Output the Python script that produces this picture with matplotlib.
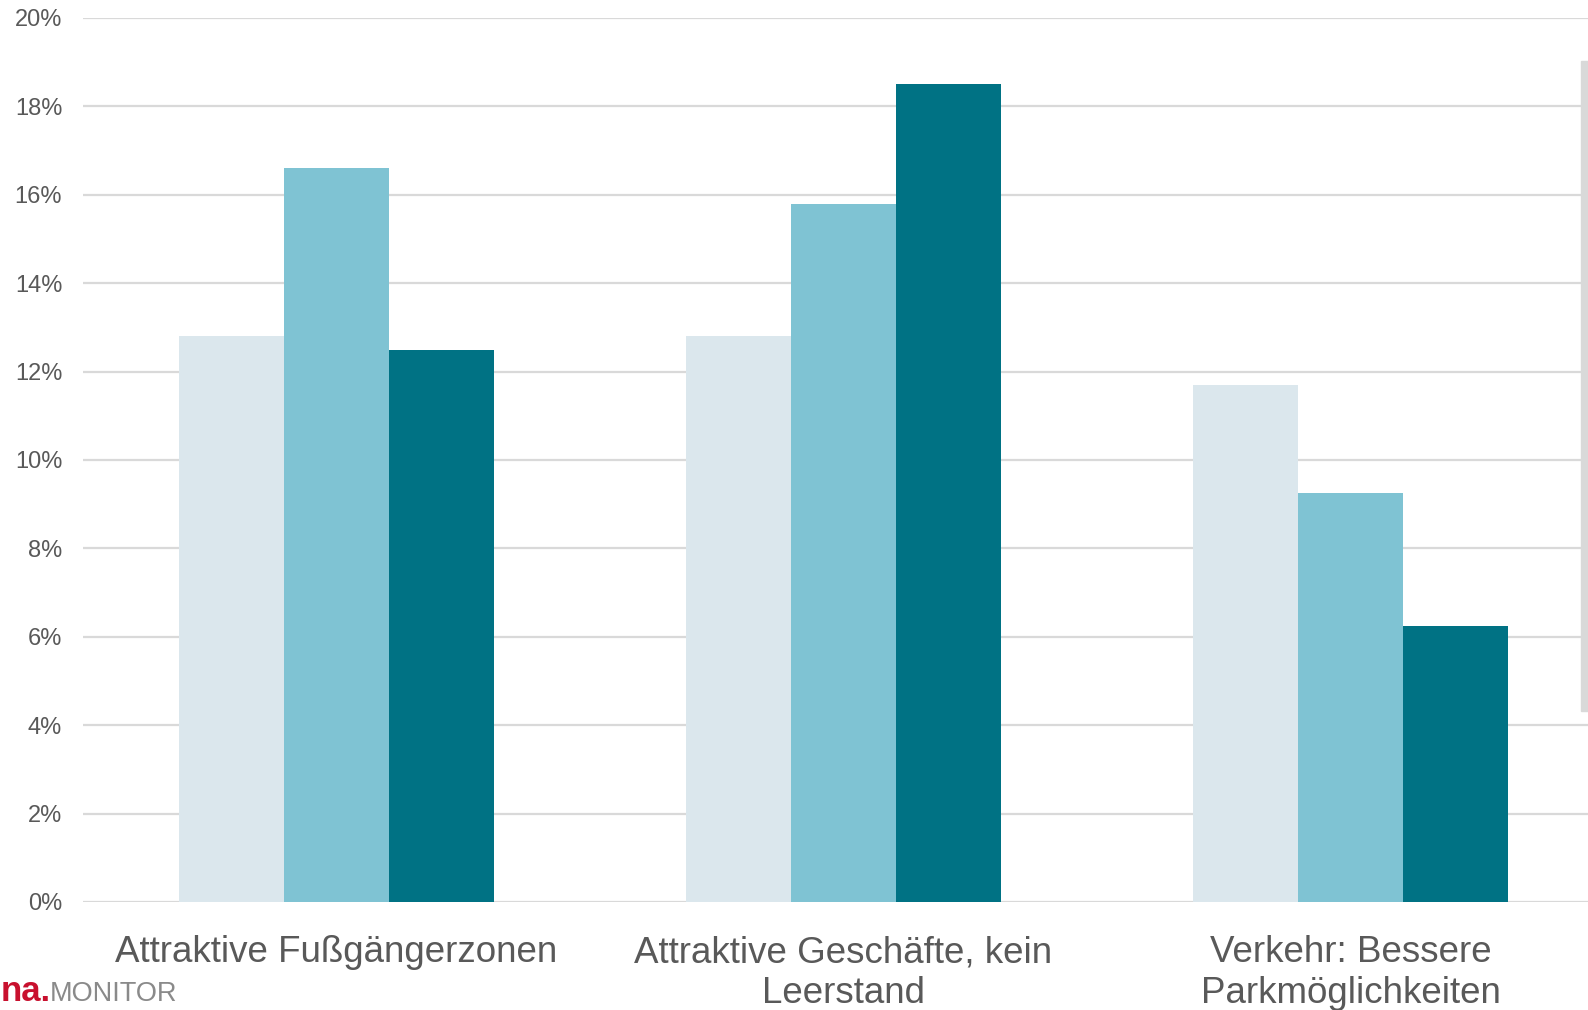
import matplotlib.pyplot as plt
from matplotlib.patches import Rectangle
from matplotlib.ticker import FuncFormatter
import numpy as np

# chart data
categories = ["Attraktive Fußgängerzonen",
              "Attraktive Geschäfte, kein\nLeerstand",
              "Verkehr: Bessere\nParkmöglichkeiten"]
series_a = [12.8, 12.8, 11.7]
series_b = [16.6, 15.8, 9.25]
series_c = [12.5, 18.5, 6.25]
colors = ["#DBE7ED", "#7FC3D3", "#007284"]

W, H = 1588, 1010
plt.rcParams['font.family'] = ['Liberation Sans', 'DejaVu Sans']
fig = plt.figure(figsize=(W / 100, H / 100), dpi=100)

# axes in pixel terms: left 83, right 1604 (runs past the edge), top 18, bottom 902
ax = fig.add_axes([83 / W, (H - 902) / H, (1604 - 83) / W, (902 - 18) / H])

x = np.arange(len(categories))
bw = 0.207
for i, vals in enumerate([series_a, series_b, series_c]):
    ax.bar(x + (i - 1) * bw, vals, width=bw, color=colors[i], zorder=3)

ax.set_xlim(-0.5, 2.5)
ax.set_ylim(0, 20)
ax.set_yticks(np.arange(0, 21, 2))
ax.yaxis.set_major_formatter(FuncFormatter(lambda v, p: f"{v:.0f}%"))
ax.grid(axis='y', color='#d9d9d9', linewidth=1.6, zorder=0)
ax.set_axisbelow(True)
for s in ax.spines.values():
    s.set_visible(False)
ax.tick_params(axis='y', length=0, pad=15, labelsize=17, labelcolor='#595959')
ax.tick_params(axis='x', length=0, pad=24, labelsize=26.5, labelcolor='#595959')
ax.set_xticks(x)
ax.set_xticklabels(categories, linespacing=1.22)

# cut-off legend frame at the right edge
fig.patches.append(Rectangle((1581 / W, (H - 711) / H), 8 / W, 650 / H,
                             transform=fig.transFigure, color='#d9d9d9', zorder=5))

# logo bottom left
fig.text(1 / W, (H - 1001) / H, "na.", color='#c8102e', fontsize=25,
         fontweight='bold', ha='left', va='baseline')
fig.text(50 / W, (H - 1001) / H, "MONITOR", color='#8a8a8a', fontsize=19.5,
         ha='left', va='baseline')

fig.savefig("out.png", dpi=100)
